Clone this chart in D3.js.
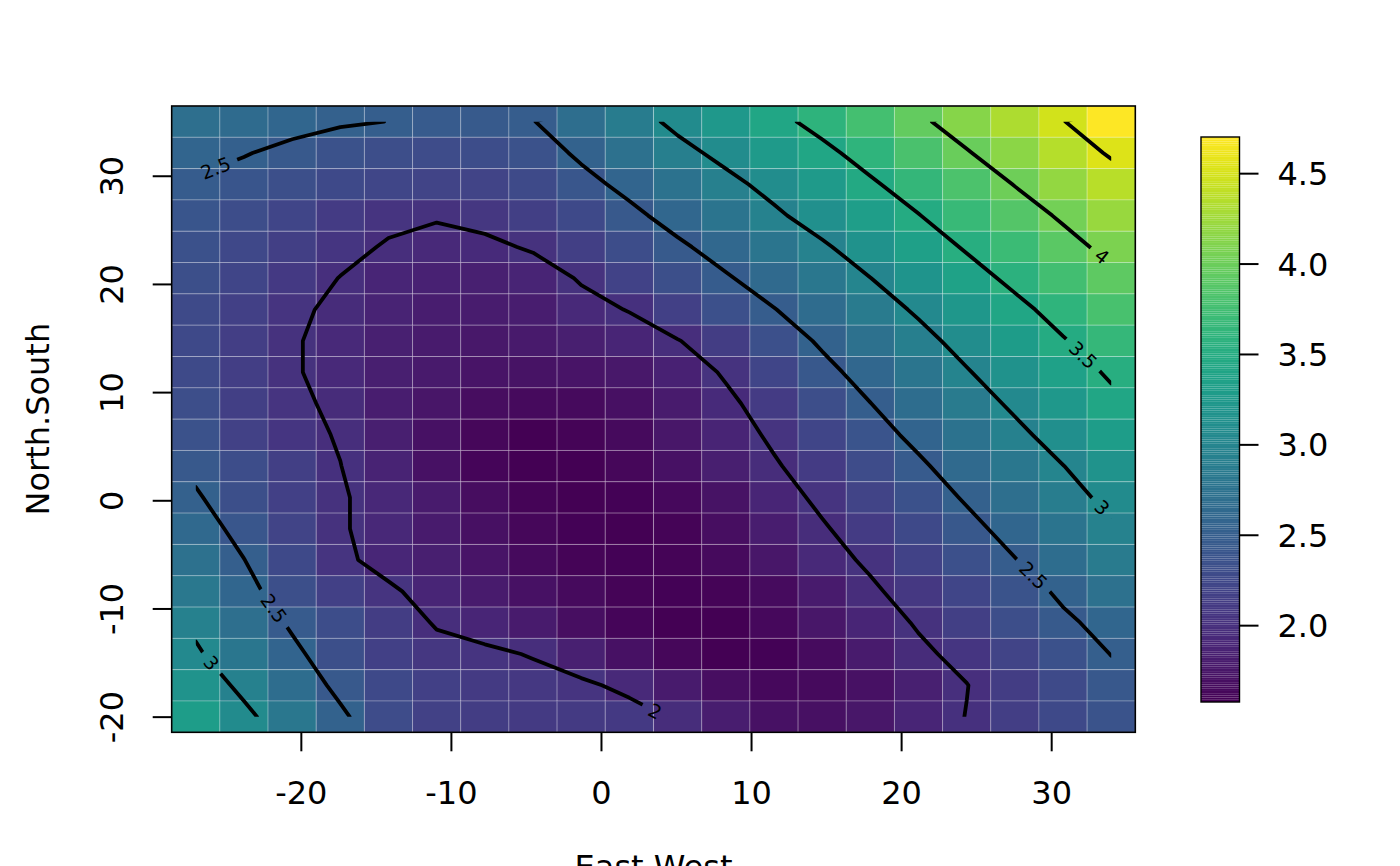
<!DOCTYPE html>
<html>
<head>
<meta charset="utf-8">
<script src="https://cdn.jsdelivr.net/npm/d3@7"></script>
<style>
  body { margin: 0; background: #fff; }
  svg { display: block; font-family: 'DejaVu Sans', sans-serif; }
  .cell { stroke: #fff; stroke-opacity: 0.26; stroke-width: 1; }
  .iso { fill: none; stroke: #000; stroke-width: 3.8; stroke-linejoin: round; stroke-linecap: round; }
  .axis text, .title { font-size: 32px; fill: #000; font-family: 'DejaVu Sans', sans-serif; }
  .axis line { stroke: #000; stroke-width: 2; }
  .lab { font-size: 19px; fill: #000; }
</style>
</head>
<body>
<svg id="chart" width="1400" height="866"></svg>
<script>
// grid coordinates (cell centres)
const eastWest = [-27.00, -23.79, -20.58, -17.37, -14.16, -10.95, -7.74, -4.53, -1.32, 1.89,
                  5.11, 8.32, 11.53, 14.74, 17.95, 21.16, 24.37, 27.58, 30.79, 34.00];
// north first, same order as the rows of surface
const northSouth = [35.00, 32.11, 29.21, 26.32, 23.42, 20.53, 17.63, 14.74, 11.84, 8.95,
                    6.05, 3.16, 0.26, -2.63, -5.53, -8.42, -11.32, -14.21, -17.11, -20.00];

// surface values, one row per northSouth value, columns follow eastWest
const surface = [
  [2.70, 2.65, 2.59, 2.53, 2.497, 2.46, 2.45, 2.49, 2.69, 2.87, 3.07, 3.24, 3.42, 3.59, 3.77, 3.95, 4.13, 4.31, 4.49, 4.70],
  [2.58, 2.515, 2.43, 2.36, 2.31, 2.29, 2.30, 2.36, 2.55, 2.73, 2.91, 3.08, 3.26, 3.43, 3.61, 3.80, 3.98, 4.16, 4.35, 4.53],
  [2.47, 2.40, 2.33, 2.27, 2.23, 2.20, 2.20, 2.28, 2.41, 2.58, 2.75, 2.92, 3.09, 3.27, 3.46, 3.64, 3.82, 4.01, 4.19, 4.37],
  [2.40, 2.30, 2.21, 2.12, 2.05, 2.02, 2.07, 2.15, 2.27, 2.43, 2.61, 2.78, 2.95, 3.13, 3.31, 3.49, 3.68, 3.86, 4.04, 4.22],
  [2.35, 2.25, 2.15, 2.06, 1.98, 1.93, 1.95, 2.025, 2.16, 2.30, 2.45, 2.62, 2.79, 2.96, 3.15, 3.34, 3.53, 3.71, 3.90, 4.08],
  [2.32, 2.21, 2.09, 1.995, 1.90, 1.86, 1.85, 1.89, 2.02, 2.19, 2.33, 2.47, 2.64, 2.82, 2.996, 3.19, 3.38, 3.57, 3.75, 3.93],
  [2.28, 2.17, 2.04, 1.955, 1.88, 1.83, 1.81, 1.82, 1.93, 2.01, 2.17, 2.34, 2.49, 2.67, 2.86, 3.04, 3.23, 3.42, 3.61, 3.79],
  [2.27, 2.14, 2.02, 1.93, 1.85, 1.80, 1.78, 1.79, 1.84, 1.90, 1.99, 2.13, 2.34, 2.54, 2.73, 2.91, 3.10, 3.29, 3.48, 3.66],
  [2.28, 2.14, 2.02, 1.93, 1.84, 1.79, 1.74, 1.73, 1.74, 1.78, 1.86, 2.03, 2.22, 2.42, 2.61, 2.79, 2.98, 3.17, 3.355, 3.54],
  [2.31, 2.16, 2.04, 1.96, 1.83, 1.75, 1.68, 1.65, 1.66, 1.70, 1.80, 1.944, 2.12, 2.31, 2.496, 2.68, 2.86, 3.05, 3.24, 3.43],
  [2.36, 2.18, 2.06, 1.985, 1.84, 1.72, 1.63, 1.575, 1.60, 1.66, 1.76, 1.89, 2.04, 2.21, 2.39, 2.57, 2.75, 2.93, 3.12, 3.30],
  [2.44, 2.30, 2.15, 2.003, 1.88, 1.71, 1.62, 1.58, 1.58, 1.63, 1.72, 1.84, 1.975, 2.12, 2.29, 2.455, 2.64, 2.82, 2.995, 3.18],
  [2.53, 2.33, 2.17, 2.02, 1.92, 1.80, 1.68, 1.61, 1.58, 1.59, 1.64, 1.73, 1.90, 2.05, 2.20, 2.35, 2.53, 2.71, 2.89, 3.075],
  [2.63, 2.41, 2.20, 2.02, 1.92, 1.80, 1.70, 1.63, 1.59, 1.58, 1.61, 1.69, 1.82, 1.975, 2.12, 2.27, 2.42, 2.60, 2.78, 2.95],
  [2.73, 2.505, 2.26, 2.05, 1.915, 1.84, 1.74, 1.66, 1.61, 1.59, 1.60, 1.65, 1.77, 1.93, 2.03, 2.19, 2.34, 2.49, 2.68, 2.86],
  [2.83, 2.60, 2.33, 2.17, 2.04, 1.90, 1.80, 1.71, 1.65, 1.61, 1.59, 1.60, 1.67, 1.80, 1.97, 2.08, 2.22, 2.37, 2.55, 2.73],
  [2.94, 2.70, 2.46, 2.30, 2.13, 1.98, 1.90, 1.80, 1.69, 1.62, 1.58, 1.58, 1.64, 1.76, 1.90, 2.02, 2.16, 2.31, 2.45, 2.59],
  [3.04, 2.80, 2.565, 2.33, 2.17, 2.07, 2.045, 1.985, 1.85, 1.72, 1.63, 1.58, 1.59, 1.67, 1.80, 1.96, 2.06, 2.20, 2.35, 2.505],
  [3.18, 2.93, 2.68, 2.43, 2.27, 2.17, 2.11, 2.08, 2.045, 1.94, 1.80, 1.69, 1.64, 1.65, 1.72, 1.85, 1.995, 2.13, 2.28, 2.42],
  [3.30, 3.07, 2.81, 2.55, 2.29, 2.18, 2.13, 2.11, 2.10, 2.09, 1.97, 1.82, 1.72, 1.70, 1.76, 1.90, 2.005, 2.14, 2.26, 2.37]
];

const contourLevels = [2, 2.5, 3, 3.5, 4, 4.5];
const xTicks = [-20, -10, 0, 10, 20, 30];
const yTicks = [-20, -10, 0, 10, 20, 30];
const legendTicks = [2, 2.5, 3, 3.5, 4, 4.5];
// rough spots where the contour labels sit (snapped onto the line below)
const labelAt = [
  {level: 2.5, x: -25.7, y: 30.8},
  {level: 2,   x: 3.6,   y: -19.5},
  {level: 2.5, x: -21.9, y: -10.1},
  {level: 3,   x: -26.0, y: -15.1},
  {level: 2.5, x: 28.7,  y: -7.1},
  {level: 3,   x: 33.3,  y: -0.8},
  {level: 3.5, x: 32.1,  y: 13.4},
  {level: 4,   x: 33.3,  y: 22.4}
];

const svg = d3.select("#chart");
const defs = svg.append("defs");
const plot = {left: 171.7, right: 1135.3, top: 106, bottom: 732.3};
const bar = {left: 1201, right: 1239.5, top: 137, bottom: 702};

const nx = eastWest.length, ny = northSouth.length;
const halfX = (eastWest[nx - 1] - eastWest[0]) / (nx - 1) / 2;
const halfY = (northSouth[0] - northSouth[ny - 1]) / (ny - 1) / 2;

const x = d3.scaleLinear()
    .domain([eastWest[0] - halfX, eastWest[nx - 1] + halfX])
    .range([plot.left, plot.right]);
const y = d3.scaleLinear()
    .domain([northSouth[ny - 1] - halfY, northSouth[0] + halfY])
    .range([plot.bottom, plot.top]);

const values = surface.flat();
const zRange = d3.extent(values);
const color = d3.scaleSequential(d3.interpolateViridis).domain(zRange);

// image cells
const cells = surface.flatMap((row, j) => row.map((v, i) => ({i, j, v})));
svg.append("g").selectAll("rect").data(cells).join("rect")
    .attr("class", "cell")
    .attr("x", d => x(eastWest[d.i] - halfX))
    .attr("y", d => y(northSouth[d.j] + halfY))
    .attr("width", d => x(eastWest[d.i] + halfX) - x(eastWest[d.i] - halfX))
    .attr("height", d => y(northSouth[d.j] - halfY) - y(northSouth[d.j] + halfY))
    .attr("fill", d => color(d.v));

// contour lines, grid index space -> data -> pixels
const colAt = d3.scaleLinear().domain([0, nx - 1]).range([eastWest[0], eastWest[nx - 1]]);
const rowAt = d3.scaleLinear().domain([0, ny - 1]).range([northSouth[0], northSouth[ny - 1]]);
const toPx = p => [x(colAt(p[0] - 0.5)), y(rowAt(p[1] - 0.5))];
const isolines = d3.contours().size([nx, ny]).thresholds(contourLevels)(values);

const inner = {
  x0: x(eastWest[0]), x1: x(eastWest[nx - 1]),
  y0: y(northSouth[0]), y1: y(northSouth[ny - 1])
};
defs.append("clipPath").attr("id", "inner")
  .append("rect")
    .attr("x", inner.x0).attr("y", inner.y0)
    .attr("width", inner.x1 - inner.x0).attr("height", inner.y1 - inner.y0);

const gaps = defs.append("mask").attr("id", "gaps")
    .attr("maskUnits", "userSpaceOnUse")
    .attr("x", 0).attr("y", 0).attr("width", 1400).attr("height", 866);
gaps.append("rect").attr("width", 1400).attr("height", 866).attr("fill", "#fff");

const line = d3.line();
const isoG = svg.append("g").attr("clip-path", "url(#inner)")
  .append("g").attr("mask", "url(#gaps)");
isolines.forEach(c => {
  const rings = c.coordinates.flat().map(r => r.map(toPx));
  isoG.append("path").attr("class", "iso").attr("d", rings.map(r => line(r)).join(""));
});

// labels: nearest point on the visible part of the line, turned along it
const inside = p => p[0] >= inner.x0 - 0.5 && p[0] <= inner.x1 + 0.5 &&
                    p[1] >= inner.y0 - 0.5 && p[1] <= inner.y1 + 0.5;
const labelG = svg.append("g");
labelAt.forEach(s => {
  const c = isolines.find(d => d.value === s.level);
  const target = [x(s.x), y(s.y)];
  let best = null;
  c.coordinates.flat().forEach(ring => {
    const pts = ring.map(toPx);
    for (let k = 1; k < pts.length; k++) {
      const a = pts[k - 1], b = pts[k];
      if (!inside(a) || !inside(b)) continue;
      const dx = b[0] - a[0], dy = b[1] - a[1];
      const len2 = dx * dx + dy * dy;
      if (!len2) continue;
      let t = ((target[0] - a[0]) * dx + (target[1] - a[1]) * dy) / len2;
      t = Math.max(0, Math.min(1, t));
      const px = a[0] + t * dx, py = a[1] + t * dy;
      const dist = Math.hypot(px - target[0], py - target[1]);
      if (!best || dist < best.dist) best = {dist, px, py, angle: Math.atan2(dy, dx) * 180 / Math.PI};
    }
  });
  if (!best) return;
  let ang = best.angle;
  if (ang > 90) ang -= 180;
  if (ang < -90) ang += 180;
  const tf = `translate(${best.px},${best.py}) rotate(${ang})`;
  const t = labelG.append("text").attr("class", "lab")
      .attr("transform", tf)
      .attr("text-anchor", "middle")
      .attr("dy", "0.36em")
      .text(String(s.level));
  const w = t.node().getComputedTextLength();
  gaps.append("rect")
      .attr("x", -w / 2 - 8).attr("y", -11)
      .attr("width", w + 16).attr("height", 22)
      .attr("transform", tf)
      .attr("fill", "#000");
});

// box
svg.append("rect")
    .attr("x", plot.left).attr("y", plot.top)
    .attr("width", plot.right - plot.left).attr("height", plot.bottom - plot.top)
    .attr("fill", "none").attr("stroke", "#000").attr("stroke-width", 1.6);

// axes
const xAxis = svg.append("g").attr("class", "axis")
    .attr("transform", `translate(0,${plot.bottom})`)
    .call(d3.axisBottom(x).tickValues(xTicks).tickSize(19).tickFormat(d => String(d)));
xAxis.select(".domain").remove();
xAxis.selectAll(".tick text").attr("y", 49).attr("dy", "0.71em");

const yAxis = svg.append("g").attr("class", "axis")
    .attr("transform", `translate(${plot.left},0)`)
    .call(d3.axisLeft(y).tickValues(yTicks).tickSize(19).tickFormat(d => String(d)));
yAxis.select(".domain").remove();
yAxis.selectAll(".tick text")
    .attr("x", 0).attr("y", -60).attr("dy", "0.36em")
    .attr("text-anchor", "middle")
    .attr("transform", "rotate(-90)");

svg.append("text").attr("class", "title")
    .attr("x", (plot.left + plot.right) / 2).attr("y", 866)
    .attr("dy", "0.36em")
    .attr("text-anchor", "middle")
    .text("East.West");
svg.append("text").attr("class", "title")
    .attr("transform", `translate(37,${(plot.top + plot.bottom) / 2}) rotate(-90)`)
    .attr("dy", "0.36em")
    .attr("text-anchor", "middle")
    .text("North.South");

// colour bar
const z = d3.scaleLinear().domain(zRange).range([bar.bottom, bar.top]);
const nSlices = 256;
const sliceEdges = d3.range(nSlices + 1).map(k => zRange[0] + (zRange[1] - zRange[0]) * k / nSlices);
svg.append("g").selectAll("rect").data(d3.range(nSlices)).join("rect")
    .attr("x", bar.left)
    .attr("width", bar.right - bar.left)
    .attr("y", k => z(sliceEdges[k + 1]))
    .attr("height", k => z(sliceEdges[k]) - z(sliceEdges[k + 1]))
    .attr("fill", k => color((sliceEdges[k] + sliceEdges[k + 1]) / 2));
svg.append("rect")
    .attr("x", bar.left).attr("y", bar.top)
    .attr("width", bar.right - bar.left).attr("height", bar.bottom - bar.top)
    .attr("fill", "none").attr("stroke", "#000").attr("stroke-width", 1.4);

const zAxis = svg.append("g").attr("class", "axis")
    .attr("transform", `translate(${bar.right},0)`)
    .call(d3.axisRight(z).tickValues(legendTicks).tickSize(19).tickPadding(19).tickFormat(d3.format(".1f")));
zAxis.select(".domain").remove();
zAxis.selectAll(".tick text").attr("dy", "0.36em");
</script>
</body>
</html>
